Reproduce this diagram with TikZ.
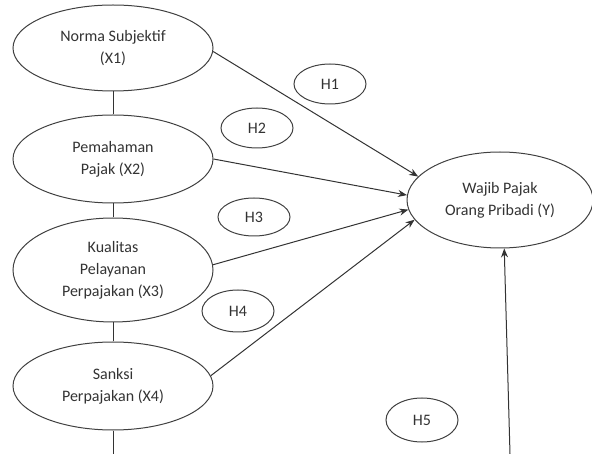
\documentclass[tikz,border=0pt]{standalone}
\usepackage{fontspec}
\setmainfont{Carlito}
\usetikzlibrary{shapes.geometric,arrows.meta}
\begin{document}
\begin{tikzpicture}[x=1pt,y=-1pt,
  every node/.style={font=\fontsize{16}{22}\selectfont, text=black!80},
  var/.style={ellipse, draw=black!75, line width=1pt, inner sep=0pt, align=center},
  hyp/.style={ellipse, draw=black!75, line width=1pt, inner sep=0pt, minimum width=72pt, minimum height=40pt},
  link/.style={draw=black!80, line width=1pt},
  arr/.style={link, -{Stealth[length=9pt,width=7pt]}}]
\useasboundingbox (0,0) rectangle (592,454);
\node[var, minimum width=200pt, minimum height=86pt] (x1) at (113,48) {Norma Subjektif\\(X1)};
\node[var, minimum width=200pt, minimum height=88pt] (x2) at (113,159) {Pemahaman\\Pajak (X2)};
\node[var, minimum width=200pt, minimum height=104pt] (x3) at (113,270) {Kualitas\\Pelayanan\\Perpajakan (X3)};
\node[var, minimum width=200pt, minimum height=88pt] (x4) at (113,386) {Sanksi\\Perpajakan (X4)};
\node[var, minimum width=186pt, minimum height=96pt] (y) at (500,200) {Wajib Pajak\\Orang Pribadi (Y)};
\node[hyp] (h1) at (330,84) {H1};
\node[hyp] (h2) at (257,128) {H2};
\node[hyp, minimum height=38pt] (h3) at (254,217) {H3};
\node[hyp, minimum height=42pt] (h4) at (238,311) {H4};
\node[hyp, minimum height=44pt] (h5) at (422,420) {H5};
\coordinate (b4) at (113,454);
\coordinate (b5) at (510,454);
\draw[link] (x1.south) -- (x2.north);
\draw[link] (x2.south) -- (x3.north);
\draw[link] (x3.south) -- (x4.north);
\draw[link] (x4.south) -- (b4);
\draw[arr] (x1.-2) -- (y.164);
\draw[arr] (x2.east) -- (y.177);
\draw[arr] (x3.3) -- (y.186);
\draw[arr] (x4.6) -- (y.193);
\draw[arr] (b5) -- (y.-85);
\end{tikzpicture}
\end{document}
